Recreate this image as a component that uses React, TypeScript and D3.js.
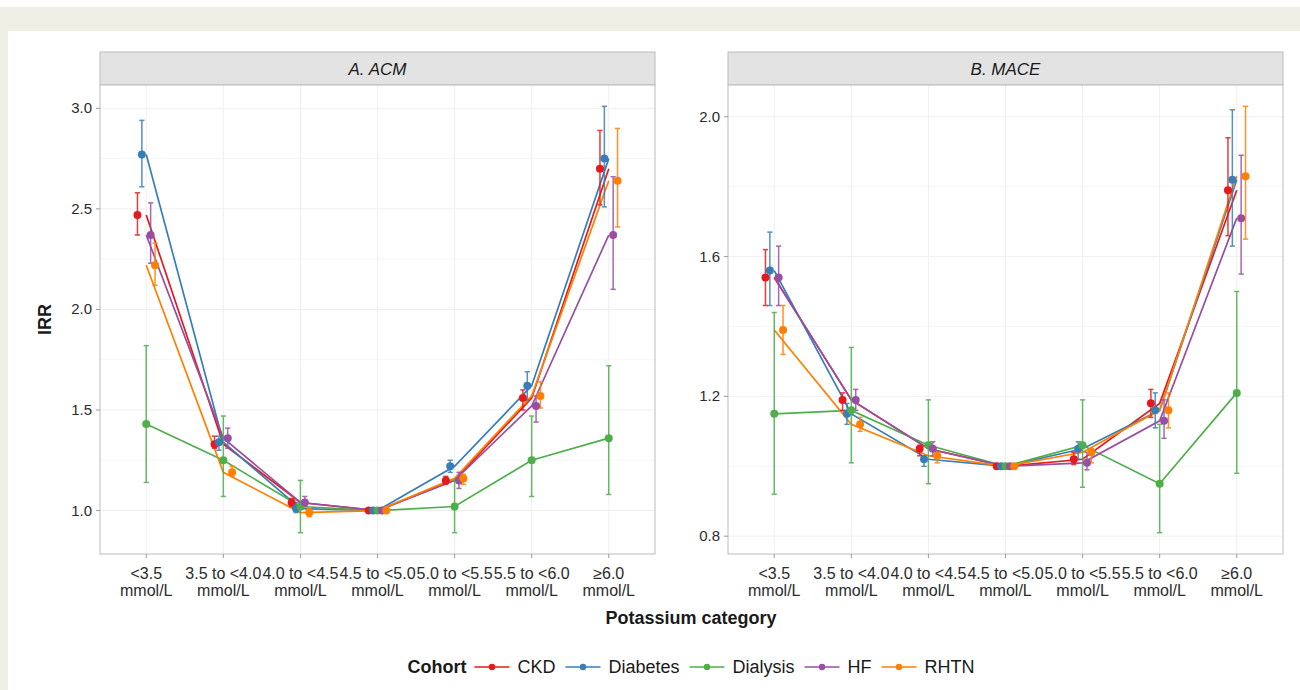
import React from 'react';
import * as d3 from 'd3';

// potassium categories (x axis), second label line is the unit
const categories = ['<3.5', '3.5 to <4.0', '4.0 to <4.5', '4.5 to <5.0', '5.0 to <5.5', '5.5 to <6.0', '≥6.0'];
const unit = 'mmol/L';

const cohorts = ['CKD', 'Diabetes', 'Dialysis', 'HF', 'RHTN'];
const colors = ['#E41A1C', '#377EB8', '#4DAF4A', '#984EA3', '#FF7F00'];

// [IRR, lower, upper] per category
const acmCKD = [[2.47, 2.37, 2.58], [1.33, 1.31, 1.37], [1.04, 1.02, 1.06], [1, 1, 1], [1.15, 1.13, 1.17], [1.56, 1.5, 1.6], [2.7, 2.52, 2.89]];
const acmDiabetes = [[2.77, 2.61, 2.94], [1.34, 1.3, 1.37], [1.01, 0.99, 1.04], [1, 1, 1], [1.22, 1.19, 1.25], [1.62, 1.55, 1.69], [2.75, 2.51, 3.01]];
const acmDialysis = [[1.43, 1.14, 1.82], [1.25, 1.07, 1.47], [1.02, 0.89, 1.15], [1, 1, 1], [1.02, 0.89, 1.15], [1.25, 1.07, 1.47], [1.36, 1.08, 1.72]];
const acmHF = [[2.37, 2.23, 2.53], [1.36, 1.31, 1.41], [1.04, 1.02, 1.07], [1, 1, 1], [1.15, 1.11, 1.19], [1.52, 1.44, 1.57], [2.37, 2.1, 2.66]];
const acmRHTN = [[2.22, 2.12, 2.33], [1.19, 1.17, 1.22], [0.99, 0.97, 1.01], [1, 1, 1], [1.16, 1.13, 1.18], [1.57, 1.51, 1.64], [2.64, 2.41, 2.9]];

const maceCKD = [[1.54, 1.46, 1.62], [1.19, 1.16, 1.21], [1.05, 1.03, 1.06], [1, 1, 1], [1.02, 1.005, 1.04], [1.18, 1.14, 1.22], [1.79, 1.66, 1.94]];
const maceDiabetes = [[1.56, 1.46, 1.67], [1.15, 1.12, 1.18], [1.02, 1.0, 1.03], [1, 1, 1], [1.05, 1.02, 1.07], [1.16, 1.11, 1.21], [1.82, 1.63, 2.02]];
const maceDialysis = [[1.15, 0.92, 1.44], [1.16, 1.01, 1.34], [1.06, 0.95, 1.19], [1, 1, 1], [1.06, 0.94, 1.19], [0.95, 0.81, 1.12], [1.21, 0.98, 1.5]];
const maceHF = [[1.54, 1.46, 1.63], [1.19, 1.16, 1.22], [1.05, 1.03, 1.07], [1, 1, 1], [1.01, 0.99, 1.04], [1.13, 1.08, 1.19], [1.71, 1.55, 1.89]];
const maceRHTN = [[1.39, 1.32, 1.46], [1.12, 1.1, 1.14], [1.03, 1.01, 1.04], [1, 1, 1], [1.04, 1.01, 1.05], [1.16, 1.11, 1.21], [1.83, 1.65, 2.03]];

const acmTicks = [1.0, 1.5, 2.0, 2.5, 3.0];
const maceTicks = [0.8, 1.2, 1.6, 2.0];

const FONT = '"Liberation Sans", Arial, Helvetica, sans-serif';

function measure(text, font) {
  const ctx = document.createElement('canvas').getContext('2d');
  ctx.font = font;
  return ctx.measureText(text).width;
}

function Panel({ x0, x1, top, bottom, title, series, ticks }) {
  const stripH = 33;
  const x = d3.scalePoint().domain(categories).range([x0, x1]).padding(0.6);
  const all = series.flat();
  const lo = d3.min(all, d => d[1]);
  const hi = d3.max(all, d => d[2]);
  const pad = (hi - lo) * 0.05;
  const y = d3.scaleLinear().domain([lo - pad, hi + pad]).range([bottom, top]);
  const dodge = x.step() * 0.057;
  const step = ticks[1] - ticks[0];
  const minor = ticks.slice(0, -1).map(t => t + step / 2);
  const line = d3.line().x((d, i) => x(categories[i])).y(d => y(d[0]));

  return (
    <g>
      <rect x={x0} y={top - stripH} width={x1 - x0} height={stripH} fill="#e3e3e3" stroke="#bcbcbc" />
      <text x={(x0 + x1) / 2} y={top - stripH / 2 + 6} textAnchor="middle" fontStyle="italic" fontSize={17} fill="#1a1a1a">
        {title}
      </text>
      <rect x={x0} y={top} width={x1 - x0} height={bottom - top} fill="#fff" />
      {minor.map(t => (
        <line key={'m' + t} x1={x0} x2={x1} y1={y(t)} y2={y(t)} stroke="#f6f6f6" />
      ))}
      {ticks.map(t => (
        <line key={'g' + t} x1={x0} x2={x1} y1={y(t)} y2={y(t)} stroke="#efefef" />
      ))}
      {categories.map(c => (
        <line key={'v' + c} x1={x(c)} x2={x(c)} y1={top} y2={bottom} stroke="#efefef" />
      ))}
      <rect x={x0} y={top} width={x1 - x0} height={bottom - top} fill="none" stroke="#bcbcbc" />
      {ticks.map(t => (
        <g key={'t' + t}>
          <line x1={x0 - 4} x2={x0} y1={y(t)} y2={y(t)} stroke="#9a9a9a" />
          <text x={x0 - 8} y={y(t) + 5} textAnchor="end" fontSize={15} fill="#2b2b2b">
            {t.toFixed(1)}
          </text>
        </g>
      ))}
      {categories.map(c => (
        <g key={'x' + c}>
          <line x1={x(c)} x2={x(c)} y1={bottom} y2={bottom + 4} stroke="#9a9a9a" />
          <text x={x(c)} y={bottom + 25} textAnchor="middle" fontSize={16} fill="#2b2b2b">
            {c}
          </text>
          <text x={x(c)} y={bottom + 42} textAnchor="middle" fontSize={16} fill="#2b2b2b">
            {unit}
          </text>
        </g>
      ))}
      {series.map((s, k) => (
        <path key={'l' + k} d={line(s)} fill="none" stroke={colors[k]} strokeWidth={1.7} />
      ))}
      {series.map((s, k) =>
        s.map((d, i) => {
          const cx = x(categories[i]) + (k - 2) * dodge;
          return (
            <g key={'e' + k + '-' + i} stroke={colors[k]} strokeWidth={1.5} opacity={0.85}>
              <line x1={cx} x2={cx} y1={y(d[1])} y2={y(d[2])} />
              <line x1={cx - 2.6} x2={cx + 2.6} y1={y(d[1])} y2={y(d[1])} />
              <line x1={cx - 2.6} x2={cx + 2.6} y1={y(d[2])} y2={y(d[2])} />
            </g>
          );
        })
      )}
      {series.map((s, k) =>
        s.map((d, i) => (
          <circle key={'p' + k + '-' + i} cx={x(categories[i]) + (k - 2) * dodge} cy={y(d[0])} r={4} fill={colors[k]} />
        ))
      )}
    </g>
  );
}

function Legend({ cx, cy }) {
  const titleFont = `bold 18px ${FONT}`;
  const itemFont = `18px ${FONT}`;
  const keyW = 35;
  const titleW = measure('Cohort', titleFont);
  const widths = cohorts.map(c => measure(c, itemFont));
  const total = titleW + 8 + d3.sum(widths, w => keyW + 8 + w) + 10 * (cohorts.length - 1);
  let pos = cx - total / 2;
  const items = [];
  const titleX = pos;
  pos += titleW + 8;
  cohorts.forEach((c, k) => {
    items.push({ c, k, x: pos });
    pos += keyW + 8 + widths[k] + 10;
  });
  return (
    <g>
      <text x={titleX} y={cy + 6} fontSize={18} fontWeight="bold" fill="#1a1a1a">
        Cohort
      </text>
      {items.map(({ c, k, x }) => (
        <g key={c}>
          <line x1={x} x2={x + keyW} y1={cy} y2={cy} stroke={colors[k]} strokeWidth={1.6} />
          <circle cx={x + keyW / 2} cy={cy} r={3.2} fill={colors[k]} />
          <text x={x + keyW + 8} y={cy + 6} fontSize={18} fill="#1a1a1a">
            {c}
          </text>
        </g>
      ))}
    </g>
  );
}

export default function App() {
  const top = 85;
  const bottom = 554;
  const acm = [acmCKD, acmDiabetes, acmDialysis, acmHF, acmRHTN];
  const mace = [maceCKD, maceDiabetes, maceDialysis, maceHF, maceRHTN];
  return (
    <svg
      width={1300}
      height={690}
      style={{ position: 'absolute', left: 0, top: 0 }}
      fontFamily={FONT}
    >
      <rect x={0} y={0} width={1300} height={690} fill="#fff" />
      <rect x={0} y={7} width={1300} height={24} fill="#f0efe6" />
      <rect x={0} y={7} width={8} height={683} fill="#f0efe6" />
      <Panel x0={100} x1={655} top={top} bottom={bottom} title="A. ACM" series={acm} ticks={acmTicks} />
      <Panel x0={728} x1={1283} top={top} bottom={bottom} title="B. MACE" series={mace} ticks={maceTicks} />
      <text
        transform={`translate(51,${(top + bottom) / 2}) rotate(-90)`}
        textAnchor="middle"
        fontSize={18}
        fontWeight="bold"
        fill="#1a1a1a"
      >
        IRR
      </text>
      <text x={691} y={624} textAnchor="middle" fontSize={18} fontWeight="bold" fill="#1a1a1a">
        Potassium category
      </text>
      <Legend cx={691} cy={667} />
    </svg>
  );
}
